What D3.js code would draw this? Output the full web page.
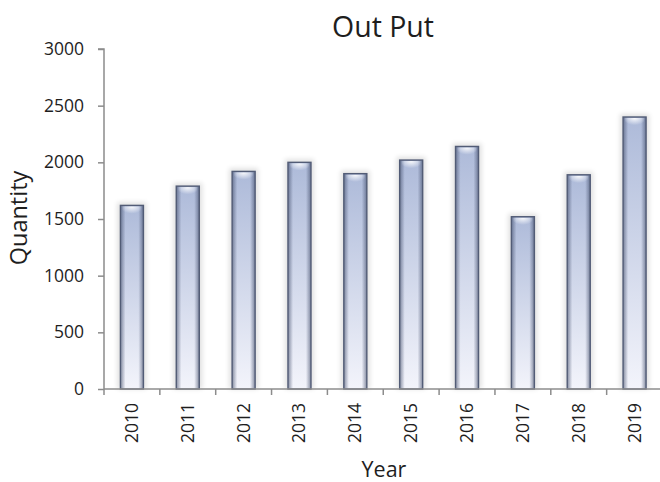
<!DOCTYPE html>
<html><head><meta charset="utf-8">
<script src="https://cdn.jsdelivr.net/npm/d3@7"></script>
<style>body{margin:0;background:#fff}svg{display:block}</style>
</head><body>
<script>
const years = ["2010","2011","2012","2013","2014","2015","2016","2017","2018","2019"];
const quantities = [1620,1790,1920,2000,1900,2020,2140,1520,1890,2400];
const yTicks = [0,500,1000,1500,2000,2500,3000];

const W = 660, H = 482;
const svg = d3.select("body").append("svg").attr("width", W).attr("height", H);
const font = "'Open Sans', 'Liberation Sans', sans-serif";

const X0 = 104, X1 = 662.5, Y0 = 389, Y1 = 49;
const x = d3.scaleBand().domain(years).range([X0, X1]).paddingInner(0.588).paddingOuter(0.294);
const y = d3.scaleLinear().domain([0, 3000]).range([Y0, Y1]);

const defs = svg.append("defs");
const gv = defs.append("linearGradient").attr("id","gv").attr("x1",0).attr("y1",0).attr("x2",0).attr("y2",1);
gv.append("stop").attr("offset","0%").attr("stop-color","#adbad9");
gv.append("stop").attr("offset","100%").attr("stop-color","#f3f4fb");
const gh = defs.append("linearGradient").attr("id","gh").attr("x1",0).attr("y1",0).attr("x2",1).attr("y2",0);
gh.append("stop").attr("offset","0%").attr("stop-color","#3d4866").attr("stop-opacity",0.6);
gh.append("stop").attr("offset","22%").attr("stop-color","#3d4866").attr("stop-opacity",0.0);
gh.append("stop").attr("offset","78%").attr("stop-color","#3d4866").attr("stop-opacity",0.0);
gh.append("stop").attr("offset","100%").attr("stop-color","#3d4866").attr("stop-opacity",0.6);
const gt = defs.append("radialGradient").attr("id","gt").attr("cx","50%").attr("cy","0%").attr("r","60%");
gt.append("stop").attr("offset","0%").attr("stop-color","#ffffff").attr("stop-opacity",0.95);
gt.append("stop").attr("offset","100%").attr("stop-color","#ffffff").attr("stop-opacity",0);
const sh = defs.append("filter").attr("id","sh").attr("x","-50%").attr("y","-10%").attr("width","200%").attr("height","120%");
sh.append("feGaussianBlur").attr("stdDeviation",2.5);

// Shadows
svg.append("g").selectAll("rect").data(years).join("rect")
  .attr("x", d => x(d) - 3).attr("y", (d,i) => y(quantities[i]) - 3)
  .attr("width", x.bandwidth() + 6).attr("height", (d,i) => y(0) - y(quantities[i]) + 3)
  .attr("fill", "#000").attr("opacity", 0.12).attr("filter","url(#sh)");

const bars = svg.append("g");
bars.selectAll("rect.b").data(years).join("rect").attr("class","b")
  .attr("x", d => x(d)).attr("y", (d,i) => y(quantities[i]))
  .attr("width", x.bandwidth()).attr("height", (d,i) => y(0) - y(quantities[i]))
  .attr("fill", "url(#gv)");
bars.selectAll("rect.h").data(years).join("rect").attr("class","h")
  .attr("x", d => x(d)).attr("y", (d,i) => y(quantities[i]))
  .attr("width", x.bandwidth()).attr("height", (d,i) => y(0) - y(quantities[i]))
  .attr("fill", "url(#gh)");
bars.selectAll("rect.t").data(years).join("rect").attr("class","t")
  .attr("x", d => x(d) + 2).attr("y", (d,i) => y(quantities[i]) + 1)
  .attr("width", x.bandwidth() - 4).attr("height", 12)
  .attr("fill", "url(#gt)");
bars.selectAll("rect.o").data(years).join("rect").attr("class","o")
  .attr("x", d => x(d)).attr("y", (d,i) => y(quantities[i]))
  .attr("width", x.bandwidth()).attr("height", (d,i) => y(0) - y(quantities[i]))
  .attr("fill", "none").attr("stroke", "#525c76").attr("stroke-width", 1.4);

// Y axis
const ya = svg.append("g").attr("transform",`translate(${X0},0)`)
  .call(d3.axisLeft(y).tickValues(yTicks).tickSize(6).tickPadding(14).tickFormat(d3.format("d")));
ya.select(".domain").attr("stroke","#8c8c8c").attr("stroke-width",1.5).attr("d",`M-6,${Y1}H0V${Y0}`);
ya.selectAll(".tick line").attr("stroke","#8c8c8c").attr("stroke-width",1.5);
ya.selectAll(".tick text").attr("font-family",font).attr("font-size",17.5).attr("fill","#1e1e1e");

// X axis
const xg = svg.append("g").attr("transform",`translate(0,${Y0})`);
xg.append("line").attr("x1",X0).attr("x2",X1).attr("y1",0).attr("y2",0).attr("stroke","#8c8c8c").attr("stroke-width",1.5);
const bounds = years.map(d => x(d) - x.step()*x.paddingInner()/2).concat([X1]);
xg.selectAll("line.t").data(bounds).join("line").attr("class","t")
  .attr("x1", d => d).attr("x2", d => d).attr("y1",0).attr("y2",6)
  .attr("stroke","#8c8c8c").attr("stroke-width",1.5);
xg.selectAll("text").data(years).join("text")
  .attr("transform", d => `translate(${x(d) + x.bandwidth()/2 + 6},14) rotate(-90)`)
  .attr("text-anchor","end").attr("font-family",font).attr("font-size",17.5).attr("fill","#1e1e1e")
  .text(d => d);

// Titles
svg.append("text").attr("x",383).attr("y",37).attr("text-anchor","middle")
  .attr("font-family",font).attr("font-size",28.5).attr("fill","#1e1e1e").text("Out Put");
svg.append("text").attr("x",384).attr("y",477).attr("text-anchor","middle")
  .attr("font-family",font).attr("font-size",21.5).attr("fill","#1e1e1e").text("Year");
svg.append("text").attr("transform","translate(27,218) rotate(-90)").attr("text-anchor","middle")
  .attr("font-family",font).attr("font-size",23.5).attr("fill","#1e1e1e").text("Quantity");
</script>
</body></html>
